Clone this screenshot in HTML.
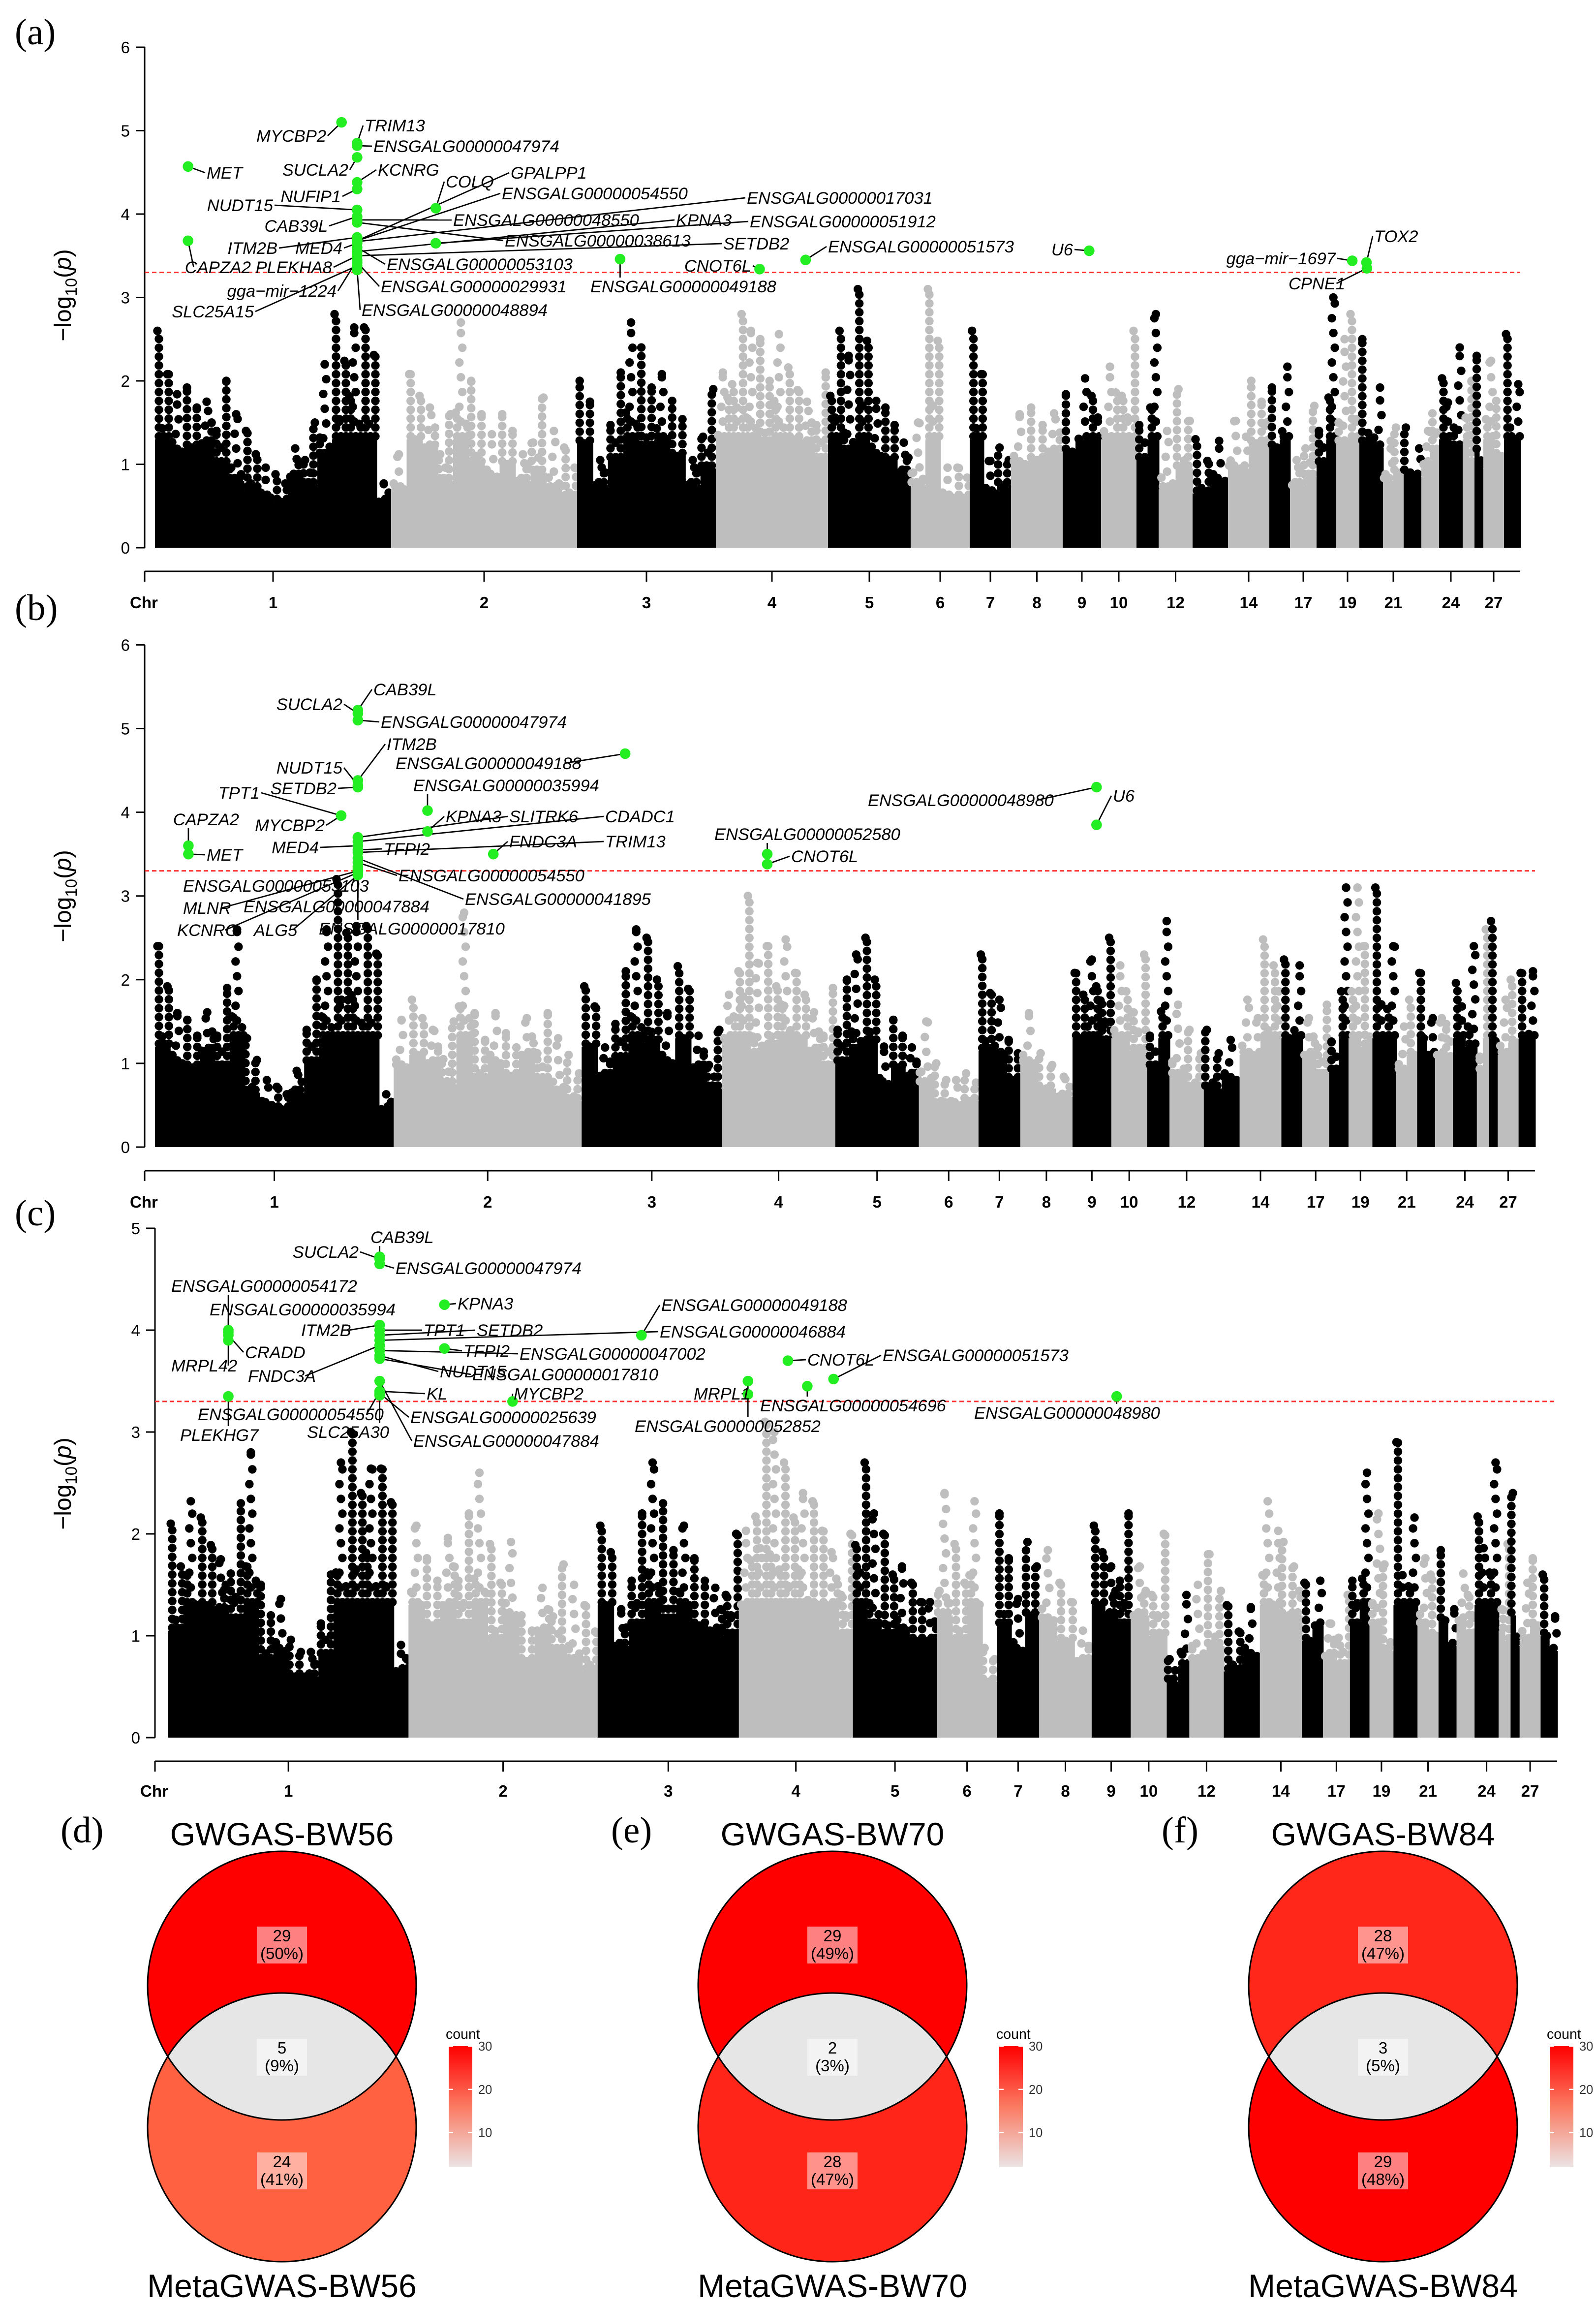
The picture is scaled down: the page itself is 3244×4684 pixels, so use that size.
<!DOCTYPE html>
<html><head><meta charset="utf-8"><title>Manhattan plots and Venn diagrams</title>
<style>
html,body{margin:0;padding:0;background:#fff;}
svg{display:block;}
text{font-family:"Liberation Sans",Arial,sans-serif;}
.gl{font-style:italic;font-size:11.5px;fill:#000;}
.tk{font-size:11px;fill:#000;}
.cl{font-size:11px;font-weight:bold;fill:#000;}
.pl{font-family:"Liberation Serif",serif;font-size:25px;}
</style></head>
<body>
<svg id="fig" xmlns="http://www.w3.org/2000/svg" width="3244" height="4684" viewBox="0 0 1081.33 1561.33">
<rect x="0" y="0" width="1081.33" height="1561.33" fill="#fff"/>
</svg>
<script>
// ---------- data ----------
const chrNames=[1,2,3,4,5,6,7,8,9,10,11,12,13,14,15,17,18,19,20,21,22,23,24,25,26,27,28];
const chrWidths=[160,126,94,76,56,40,28,35,26,24,15,23,24,28,14,18,13,16,16,14,12,12,16,8,6,14,11];
const chrTickLabels=[1,2,3,4,5,6,7,8,9,10,12,14,17,19,21,24,27];
const yTicksAB=[0,1,2,3,4,5,6];
const yTicksC=[0,1,2,3,4,5];
const threshold=3.3;

const binsA=[[2.6,2.3,2.4,2.5,2.0,1.6,1.4,1.2,1.1,1.7,1.5,2.2,2.8,3.3,3.3,1.1],
[1.4,2.6,2.4,1.6,2.7,2.0,1.7,2.0,1.6,1.8,1.4,1.2],
[2.5,1.5,2.1,2.7,2.4,2.6,2.2,1.5,1.9],
[3.0,2.8,2.6,2.5,3.2,2.7,2.5,2.1],
[2.6,2.3,3.1,2.2,2.1,1.8],
[1.5,3.1,1.2,1.2],[2.6,1.3,1.5],[2.0,2.1,2.3],[2.3,2.9,2.6],[3.1,2.6],
[2.1,2.8],[1.4,1.9],[1.3,1.6],[1.9,2.5],[2.4,3.1],[1.5,1.7],[2.0,3.0],[2.5,2.8],[2.5,2.4],
[1.6,1.8],[1.8,1.7],[2.0,2.3],[2.9,2.4],[2.6,2.0],[2.3,1.9],[2.8,2.2],[3.2,2.8]];
const binsB=[[2.4,2.0,1.9,2.3,1.9,2.6,1.3,1.0,0.9,1.3,2.0,2.6,3.2,3.3,3.3,0.9],
[1.9,2.2,2.0,1.5,2.8,1.6,2.0,1.7,2.2,1.6,1.3,1.1],
[2.4,1.7,2.1,2.6,2.5,2.0,2.7,1.9,1.4],
[2.6,3.0,2.2,2.4,3.1,2.6,2.3,1.9],
[2.0,2.3,2.5,1.5,1.9,1.7],
[1.5,1.0,1.0,1.1],[2.3,2.2,1.6],[2.0,1.4,1.2],[2.6,3.2,2.5],[3.1,2.3],
[1.9,2.7],[1.7,1.4],[1.4,1.6],[2.2,3.1],[2.8,3.1],[2.2,1.7],[1.8,3.1],[3.1,2.4],[3.1,3.0],
[1.8,2.2],[2.6,2.2],[2.2,2.1],[2.8,2.4],[1.8,2.6],[2.7,2.3],[2.2,2.5],[2.6,3.0]];
const binsC=[[2.1,2.9,2.7,2.5,2.3,2.8,1.5,1.7,1.2,1.2,1.6,2.7,3.0,3.3,3.3,1.3],
[2.6,2.2,2.8,2.2,2.6,1.9,2.4,1.5,2.1,1.7,1.5,1.3],
[2.6,1.8,2.2,2.7,2.3,2.6,2.2,2.1,2.0],
[2.9,3.1,3.0,2.7,3.0,2.9,2.6,2.0],
[2.7,2.2,2.0,2.1,1.9,1.9],
[2.4,1.9,2.9,1.1],[2.2,1.7,2.4],[2.3,1.9,1.5],[2.6,2.4,2.2],[2.4,2.0],
[1.1,1.4],[1.5,1.8],[1.3,1.6],[2.9,2.4],[1.9,2.2],[1.6,1.4],[2.2,2.6],[2.2,1.7],[2.9,2.7],
[2.2,2.0],[2.3,1.8],[2.3,2.0],[3.1,2.7],[2.1,1.9],[2.4,1.8],[1.9,2.2],[2.0,1.7]];

// significant hits: chromosome, fraction along chromosome, -log10(p), gene label
const hitChrA=[1,1,1,1,1,1,1,1,1,1,1,1,1,1,1,1,1,1,1,1,2,1,1,1,1,2,1,3,4,4,9,19,20,20];
const hitPosA=[0.14,0.14,0.79,0.856,0.856,0.856,0.856,0.856,0.856,0.856,0.856,0.856,0.856,0.856,0.856,0.856,0.856,0.856,0.856,0.856,0.24,0.856,0.856,0.856,0.856,0.24,0.856,0.31,0.39,0.8,0.69,0.7,0.3,0.32];
const hitValA=[4.57,3.68,5.1,4.85,4.82,4.68,4.38,4.3,4.05,3.97,3.93,3.9,3.72,3.65,3.6,3.5,3.45,3.42,3.38,3.33,4.07,3.68,3.68,3.67,3.55,3.65,3.5,3.46,3.34,3.45,3.56,3.44,3.42,3.35];
const hitGeneA=["MET","CAPZA2","MYCBP2","TRIM13","ENSGALG00000047974","SUCLA2","KCNRG","NUFIP1","NUDT15","CAB39L","ENSGALG00000048550","ENSGALG00000038613","ITM2B","MED4","ENSGALG00000053103","PLEKHA8","gga\u2212mir\u22121224","ENSGALG00000029931","SLC25A15","ENSGALG00000048894","COLQ","GPALPP1","ENSGALG00000054550","ENSGALG00000017031","KPNA3","ENSGALG00000051912","SETDB2","ENSGALG00000049188","CNOT6L","ENSGALG00000051573","U6","gga\u2212mir\u22121697","TOX2","CPNE1"];
const labPosA=[[140,121,0],[170,185,1],[221,96,1],[247,89,0],[253,103,0],[236,119,1],[256,119,0],[231,137,1],[185,143,1],[222,157,1],[307,153,0],[342,167,0],[188,172,1],[232,172,1],[262,183,0],[225,185,1],[228,201,1],[258,198,0],[172,215,1],[245,214,0],[302,127,0],[346,121,0],[340,135,0],[506,138,0],[458,153,0],[508,154,0],[490,169,0],[400,198,0],[509,184,1],[561,171,0],[727,173,1],[905,179,1],[931,164,0],[873,196,0]];

const hitChrB=[1,1,1,1,1,3,2,1,1,1,2,1,1,1,1,1,1,2,1,1,4,4,9,9,1,1,1,1,1,1,1];
const hitPosB=[0.85,0.85,0.85,0.85,0.85,0.31,0.18,0.85,0.78,0.78,0.18,0.85,0.85,0.14,0.14,0.85,0.85,0.53,0.85,0.85,0.4,0.4,0.62,0.62,0.85,0.85,0.85,0.85,0.85,0.85,0.85];
const hitValB=[5.18,5.22,5.1,4.38,4.32,4.7,4.02,4.3,3.96,3.96,3.77,3.7,3.65,3.6,3.5,3.6,3.55,3.5,3.52,3.4,3.5,3.38,4.3,3.85,3.35,3.3,3.32,3.45,3.28,3.25,3.3];
const hitGeneB=["SUCLA2","CAB39L","ENSGALG00000047974","ITM2B","NUDT15","ENSGALG00000049188","ENSGALG00000035994","SETDB2","TPT1","MYCBP2","KPNA3","SLITRK6","CDADC1","CAPZA2","MET","MED4","TFPI2","FNDC3A","TRIM13","ENSGALG00000054550","ENSGALG00000052580","CNOT6L","ENSGALG00000048980","U6","ENSGALG00000053103","MLNR","ENSGALG00000047884","ENSGALG00000041895","KCNRG","ALG5","ENSGALG00000017810"];
const labPosB=[[232,481,1],[253,471,0],[258,493,0],[262,508,0],[232,524,1],[268,521,0],[280,536,0],[228,538,1],[176,541,1],[220,563,1],[302,557,0],[345,557,0],[410,557,0],[162,559,1],[140,583,0],[216,578,1],[260,579,0],[345,574,0],[410,574,0],[270,597,0],[484,569,0],[536,584,0],[588,546,0],[754,543,0],[124,604,0],[124,619,0],[165,618,0],[315,613,0],[120,634,0],[172,634,0],[216,633,0]];

const hitChrC=[1,1,1,1,2,1,3,1,1,1,1,1,1,1,2,1,1,1,4,4,2,4,1,4,9,1,1,1,1,1,4];
const hitPosC=[0.88,0.88,0.88,0.25,0.19,0.25,0.31,0.25,0.25,0.88,0.88,0.88,0.88,0.88,0.19,0.88,0.88,0.88,0.43,0.83,0.55,0.08,0.88,0.6,0.64,0.88,0.88,0.25,0.88,0.88,0.08];
const hitValC=[4.7,4.72,4.65,4.0,4.25,3.98,3.95,3.9,3.95,4.05,4.0,3.95,3.9,3.85,3.82,3.8,3.75,3.72,3.7,3.52,3.3,3.37,3.4,3.45,3.35,3.4,3.38,3.35,3.36,3.5,3.5];
const hitGeneC=["SUCLA2","CAB39L","ENSGALG00000047974","ENSGALG00000054172","KPNA3","ENSGALG00000035994","ENSGALG00000049188","MRPL42","CRADD","ITM2B","TPT1","SETDB2","ENSGALG00000046884","FNDC3A","TFPI2","ENSGALG00000047002","NUDT15","ENSGALG00000017810","CNOT6L","ENSGALG00000051573","MYCBP2","MRPL1","KL","ENSGALG00000054696","ENSGALG00000048980","ENSGALG00000054550","ENSGALG00000025639","PLEKHG7","SLC25A30","ENSGALG00000047884","ENSGALG00000052852"];
const labPosC=[[243,852,1],[251,842,0],[268,863,0],[116,875,0],[310,887,0],[142,891,0],[448,888,0],[116,929,0],[166,920,0],[204,905,0],[287,905,0],[323,905,0],[447,906,0],[168,936,0],[314,919,0],[352,921,0],[298,933,0],[320,935,0],[547,925,0],[598,922,0],[348,948,0],[470,948,0],[289,948,0],[515,956,0],[660,961,0],[134,962,0],[278,964,0],[122,976,0],[208,974,0],[280,980,0],[430,970,0]];

// venn data
const vennTitlesTop=["GWGAS-BW56","GWGAS-BW70","GWGAS-BW84"];
const vennTitlesBottom=["MetaGWAS-BW56","MetaGWAS-BW70","MetaGWAS-BW84"];
const vennTop=[29,29,28];
const vennBoth=[5,2,3];
const vennBottom=[24,28,29];
const vennTopPct=[50,49,47];
const vennBothPct=[9,3,5];
const vennBottomPct=[41,47,48];
const legendTicks=[10,20,30];

// ---------- helpers ----------
const NS="http://www.w3.org/2000/svg";
const svg=document.getElementById('fig');
function mk(tag,attrs,parent){const e=document.createElementNS(NS,tag);for(const k in attrs)e.setAttribute(k,attrs[k]);(parent||svg).appendChild(e);return e;}

const panels=[
 {id:'a',bins:binsA,hc:hitChrA,hp:hitPosA,hv:hitValA,hg:hitGeneA,lp:labPosA,x0:105,x1:1030,ax:98,y0:371,ppu:56.5,ticks:yTicksAB,xay:387,ly:412,lab:[10,30],title:200},
 {id:'b',bins:binsB,hc:hitChrB,hp:hitPosB,hv:hitValB,hg:hitGeneB,lp:labPosB,x0:105,x1:1040,ax:98,y0:777,ppu:56.7,ticks:yTicksAB,xay:793,ly:818,lab:[10,420],title:607},
 {id:'c',bins:binsC,hc:hitChrC,hp:hitPosC,hv:hitValC,hg:hitGeneC,lp:labPosC,x0:114,x1:1055,ax:105,y0:1177,ppu:69,ticks:yTicksC,xay:1193,ly:1217,lab:[10,830],title:1005}
];
const pattern=[1,0.55,0.8,0.45,0.7,0.6];
const totalW=chrWidths.reduce((a,b)=>a+b,0);

panels.forEach((P,pi)=>{
  const g=mk('g',{});
  
  
  const sc=(P.x1-P.x0)/totalW;
  const starts=[];let acc=P.x0;
  chrWidths.forEach(w=>{starts.push(acc);acc+=w*sc;});
  const yS=v=>P.y0-v*P.ppu;
  const xS=(ci,f)=>starts[ci]+f*chrWidths[ci]*sc;
  const pl=mk('text',{x:P.lab[0],y:P.lab[1],class:'pl'},g);pl.textContent='('+P.id+')';
  
  
  const yax=mk('g',{},g);
  
  
  const tmax=P.ticks[P.ticks.length-1];
  mk('line',{x1:P.ax,x2:P.ax,y1:yS(0),y2:yS(tmax),stroke:'#000','stroke-width':1},yax);
  P.ticks.forEach(t=>{
    mk('line',{x1:P.ax-6,x2:P.ax,y1:yS(t),y2:yS(t),stroke:'#000','stroke-width':1},yax);
    const tx=mk('text',{x:P.ax-10,y:yS(t)+4,'text-anchor':'end',class:'tk'},yax);tx.textContent=t;
  });
  const yt=mk('text',{x:0,y:0,transform:`translate(48,${P.title}) rotate(-90)`,'text-anchor':'middle','font-size':'16'},g);
  
  
  yt.innerHTML='\u2212log<tspan font-size="11" dy="4">10</tspan><tspan dy="-4">(</tspan><tspan font-style="italic">p</tspan>)';
  const xax=mk('g',{},g);
  
  
  mk('line',{x1:P.ax,x2:P.x1,y1:P.xay,y2:P.xay,stroke:'#000','stroke-width':1},xax);
  mk('line',{x1:P.ax,x2:P.ax,y1:P.xay,y2:P.xay+7,stroke:'#000','stroke-width':1},xax);
  const chrT=mk('text',{x:P.ax-10,y:P.ly,class:'cl'},xax);chrT.textContent='Chr';
  chrTickLabels.forEach(n=>{
    const ci=chrNames.indexOf(n);const cx=starts[ci]+chrWidths[ci]*sc/2;
    mk('line',{x1:cx,x2:cx,y1:P.xay,y2:P.xay+7,stroke:'#000','stroke-width':1},xax);
    const t=mk('text',{x:cx,y:P.ly,'text-anchor':'middle',class:'cl'},xax);t.textContent=n;
  });
  const pts=mk('g',{},g);
  
  
  P.bins.forEach((arr,ci)=>{
    const col=ci%2===0?'#000':'#bebebe';
    const bw=chrWidths[ci]*sc/arr.length;
    arr.forEach((mx,bi)=>{
      const bx=starts[ci]+bi*bw;
      const base=Math.min(mx*0.5,1.3);
      const r=mk('rect',{x:bx,y:yS(base),width:bw+0.5,height:base*P.ppu,fill:col},pts);
      
      const m=Math.max(1,Math.round(bw/3.5));
      for(let k=0;k<m;k++){
        const h=mx*pattern[(k+bi+ci)%pattern.length];
        const cx=bx+(k+0.5)*bw/m;
        const step=(k%2===0)?6:10;
        for(let y=yS(base)-2;y>=yS(Math.max(h,base));y-=step){
          mk('circle',{cx:cx+((Math.round(y)%3)-1),cy:y,r:2.9,fill:col},pts);
        }
        mk('circle',{cx:cx,cy:yS(Math.max(h,base)),r:2.9,fill:col},pts);
      }
    });
  });
  const th=mk('line',{x1:P.ax,x2:P.x1,y1:yS(threshold),y2:yS(threshold),stroke:'#ff3030','stroke-width':1,'stroke-dasharray':'3,2'},g);
  
  
  const hg=mk('g',{},g);
  
  
  P.hc.forEach((c,i)=>{
    const ci=chrNames.indexOf(c);
    const px=xS(ci,P.hp[i]),py=yS(P.hv[i]);
    const [lx,ly,end]=P.lp[i];
    const w=P.hg[i].length*6.3;
    const left=end?lx-w:lx,right=end?lx:lx+w;
    let axp=Math.min(Math.max(px,left-1),right+1);
    let ayp=ly-4;
    if(px>=left&&px<=right){ayp=py<ly?ly-10:ly+2;}
    mk('line',{x1:px,y1:py,x2:axp,y2:ayp,stroke:'#000','stroke-width':0.9},hg);
  });
  P.hc.forEach((c,i)=>{
    const ci=chrNames.indexOf(c);
    const d=mk('circle',{cx:xS(ci,P.hp[i]),cy:yS(P.hv[i]),r:3.6,fill:'#22ee22'},hg);
    
    
    const [lx,ly,end]=P.lp[i];
    const t=mk('text',{x:lx,y:ly,'text-anchor':end?'end':'start',class:'gl'},hg);
    t.textContent=P.hg[i];
    
    
  });
});

// ---------- Venn diagrams ----------
function fillFor(count,mn,mx){
  const t=mx===mn?1:(count-mn)/(mx-mn);
  if(t<=0.001) return '#e6e6e6';
  const s=Math.pow(Math.max(0,1-t),0.55);
  const g=Math.round(230*s), b=Math.round(230*s*0.67);
  return `rgb(255,${g},${b})`;
}
const defs=mk('defs',{});
const lg=mk('linearGradient',{id:'lgrad',x1:0,y1:0,x2:0,y2:1},defs);
mk('stop',{offset:'0','stop-color':'#ff0000'},lg);
mk('stop',{offset:'0.5','stop-color':'#fb7a62'},lg);
mk('stop',{offset:'1','stop-color':'#ebe3e3'},lg);
const letters=['d','e','f'];
const R=91;
vennTop.forEach((tv,i)=>{
  const dx=i*373;
  const cx=191+dx,cyT=1345,cyB=1441;
  const g=mk('g',{});
  
  
  const lab=mk('text',{x:41+dx,y:1248,class:'pl'},g);lab.textContent='('+letters[i]+')';
  
  
  const mn=Math.min(tv,vennBoth[i],vennBottom[i]),mx=Math.max(tv,vennBoth[i],vennBottom[i]);
  const cp=mk('clipPath',{id:'clipTop'+i},defs);
  mk('circle',{cx:cx,cy:cyT,r:R},cp);
  const top=mk('circle',{cx:cx,cy:cyT,r:R,fill:fillFor(tv,mn,mx)},g);
  
  
  const bot=mk('circle',{cx:cx,cy:cyB,r:R,fill:fillFor(vennBottom[i],mn,mx)},g);
  
  
  const lens=mk('circle',{cx:cx,cy:cyB,r:R,fill:fillFor(vennBoth[i],mn,mx),'clip-path':`url(#clipTop${i})`},g);
  
  
  mk('circle',{cx:cx,cy:cyT,r:R,fill:'none',stroke:'#000','stroke-width':1},g);
  mk('circle',{cx:cx,cy:cyB,r:R,fill:'none',stroke:'#000','stroke-width':1},g);
  const boxes=[[vennTop[i],vennTopPct[i],1305],[vennBoth[i],vennBothPct[i],1381],[vennBottom[i],vennBottomPct[i],1458]];
  boxes.forEach(([n,p,by])=>{
    const bx=mk('rect',{x:cx-17,y:by,width:34,height:25,fill:'rgba(255,255,255,0.5)'},g);
    
    const t1=mk('text',{x:cx,y:by+10,'text-anchor':'middle','font-size':'11'},g);t1.textContent=n;
    const t2=mk('text',{x:cx,y:by+22,'text-anchor':'middle','font-size':'11'},g);t2.textContent='('+p+'%)';
  });
  const tt=mk('text',{x:cx,y:1250,'text-anchor':'middle','font-size':'22'},g);tt.textContent=vennTitlesTop[i];
  
  
  const tb=mk('text',{x:cx,y:1556,'text-anchor':'middle','font-size':'22'},g);tb.textContent=vennTitlesBottom[i];
  
  
  const leg=mk('g',{},g);
  
  
  const lx=304+dx;
  const ct=mk('text',{x:lx-2,y:1381,'font-size':'9.5'},leg);ct.textContent='count';
  mk('rect',{x:lx,y:1386,width:16,height:82,fill:'url(#lgrad)'},leg);
  const lyS=v=>1386+(30-v)/(30-2)*82;
  legendTicks.forEach(v=>{
    mk('line',{x1:lx,x2:lx+3,y1:lyS(v),y2:lyS(v),stroke:'#fff','stroke-width':0.8},leg);
    mk('line',{x1:lx+13,x2:lx+16,y1:lyS(v),y2:lyS(v),stroke:'#fff','stroke-width':0.8},leg);
    const t=mk('text',{x:lx+20,y:lyS(v)+3,'font-size':'8.5',fill:'#333'},leg);t.textContent=v;
  });
});
</script>
</body></html>
